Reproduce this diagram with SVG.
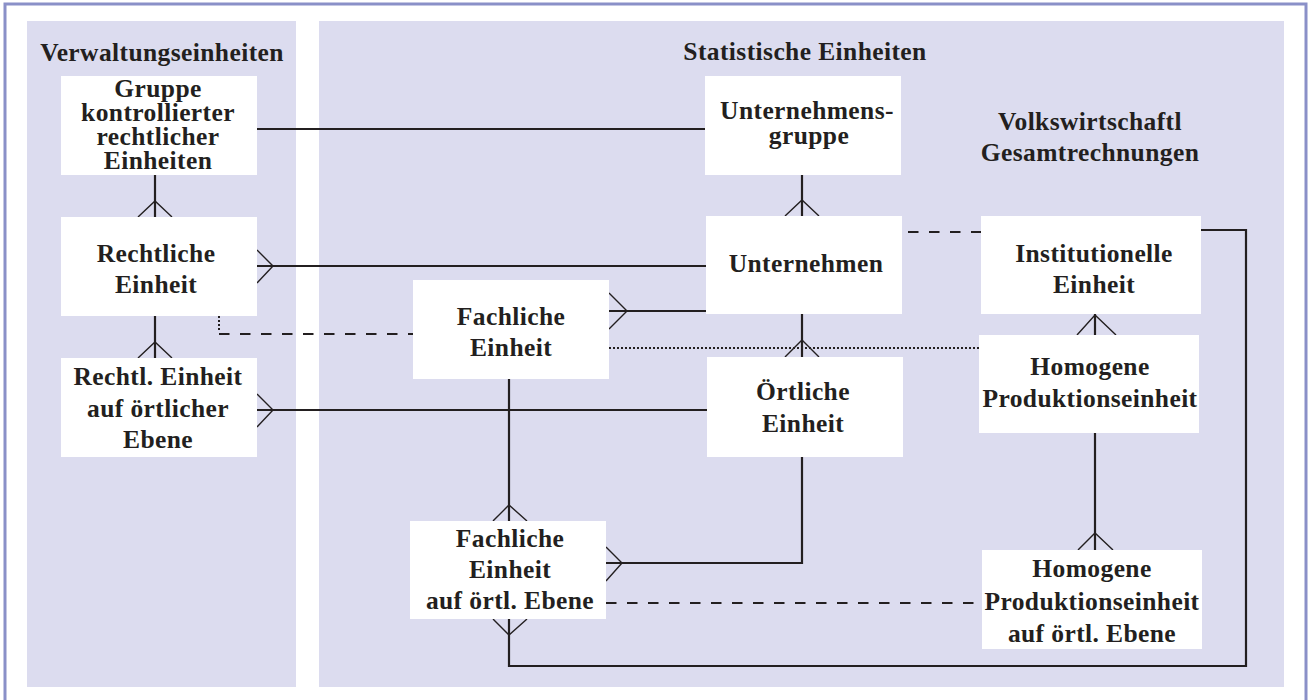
<svg xmlns="http://www.w3.org/2000/svg" width="1309" height="700" viewBox="0 0 1309 700">
<style>
.frame{fill:#ffffff;stroke:#8a90c8;stroke-width:3}
.panel{fill:#dcdcef}
.box{fill:#ffffff}
.t{font-family:"Liberation Serif","Times New Roman",serif;font-weight:bold;font-size:25.5px;letter-spacing:0.4px;fill:#231f20;text-anchor:middle}
.ln{fill:none;stroke:#231f20;stroke-width:2.2}
.cf{fill:none;stroke:#231f20;stroke-width:1.4}
.dash{fill:none;stroke:#231f20;stroke-width:2.2;stroke-dasharray:10.5 10.5}
.dot{fill:none;stroke:#231f20;stroke-width:2;stroke-dasharray:2 2}
</style>
<rect class="frame" x="5" y="4" width="1301" height="710"/>
<rect class="panel" x="27" y="21" width="269" height="666"/>
<rect class="panel" x="319" y="21" width="965" height="666"/>
<g id="headers">
<text class="t" x="162" y="61">Verwaltungseinheiten</text>
<text class="t" x="805" y="60">Statistische Einheiten</text>
<text class="t" x="1090" y="130">Volkswirtschaftl</text>
<text class="t" x="1090" y="161">Gesamtrechnungen</text>
</g>
<g id="connectors">
<path class="ln" d="M257,129 H705"/>
<path class="ln" d="M155,175 V217"/><path class="cf" d="M138,217 L155,201 L172,217"/>
<path class="ln" d="M257,266 H706"/><path class="cf" d="M257,250 L273,266 L257,283"/>
<path class="ln" d="M155,316 V358"/><path class="cf" d="M138,358 L155,342 L172,358"/>
<path class="ln" d="M257,410 H707"/><path class="cf" d="M257,394 L273,410 L257,427"/>
<path class="dot" d="M219,316 V330"/><path class="dash" d="M219,334 H413"/>
<path class="ln" d="M609,311 H706"/><path class="cf" d="M609,293 L627,311 L609,329"/>
<path class="ln" d="M802,175 V216"/><path class="cf" d="M785,216 L802,200 L819,216"/>
<path class="ln" d="M802,314 V357"/><path class="cf" d="M785,357 L802,340 L819,357"/>
<path class="dot" d="M609,348 H979"/>
<path class="dash" d="M908,232 H981"/>
<path class="ln" d="M1095,314 V335"/><path class="cf" d="M1077,335 L1095,315 L1116,335"/>
<path class="ln" d="M509,379 V521"/><path class="cf" d="M493,521 L509,505 L527,521"/>
<path class="ln" d="M802,457 V563 H606"/><path class="cf" d="M606,547 L622,563 L606,581"/>
<path class="dash" d="M606,603 H982"/>
<path class="ln" d="M1095,433 V550"/><path class="cf" d="M1078,550 L1095,533 L1113,550"/>
<path class="ln" d="M1201,230 H1246 V666 H509 V619"/><path class="cf" d="M493,619 L509,635 L527,619"/>
</g>
<g id="n-gruppe"><rect class="box" x="61" y="76" width="196" height="99"/>
<text class="t" x="158" y="97">Gruppe</text><text class="t" x="158" y="121">kontrollierter</text><text class="t" x="158" y="145">rechtlicher</text><text class="t" x="158" y="169">Einheiten</text></g>
<g id="n-rechtliche"><rect class="box" x="61" y="217" width="196" height="99"/>
<text class="t" x="156" y="262">Rechtliche</text><text class="t" x="156" y="293">Einheit</text></g>
<g id="n-rechtl-oertlich"><rect class="box" x="61" y="358" width="196" height="99"/>
<text class="t" x="158" y="385">Rechtl. Einheit</text><text class="t" x="158" y="417">auf örtlicher</text><text class="t" x="158" y="448">Ebene</text></g>
<g id="n-ugruppe"><rect class="box" x="705" y="76" width="196" height="99"/>
<text class="t" x="807" y="119">Unternehmens-</text><text class="t" x="809" y="144">gruppe</text></g>
<g id="n-unternehmen"><rect class="box" x="706" y="216" width="196" height="98"/>
<text class="t" x="806" y="272">Unternehmen</text></g>
<g id="n-fachliche"><rect class="box" x="413" y="280" width="196" height="99"/>
<text class="t" x="511" y="325">Fachliche</text><text class="t" x="511" y="356">Einheit</text></g>
<g id="n-oertliche"><rect class="box" x="707" y="357" width="196" height="100"/>
<text class="t" x="803" y="400">Örtliche</text><text class="t" x="803" y="432">Einheit</text></g>
<g id="n-institutionelle"><rect class="box" x="981" y="216" width="220" height="98"/>
<text class="t" x="1094" y="262">Institutionelle</text><text class="t" x="1094" y="293">Einheit</text></g>
<g id="n-homogene"><rect class="box" x="979" y="335" width="220" height="98"/>
<text class="t" x="1090" y="375">Homogene</text><text class="t" x="1090" y="407">Produktionseinheit</text></g>
<g id="n-fachliche-oertlich"><rect class="box" x="410" y="521" width="196" height="98"/>
<text class="t" x="510" y="547">Fachliche</text><text class="t" x="510" y="578">Einheit</text><text class="t" x="510" y="609">auf örtl. Ebene</text></g>
<g id="n-homogene-oertlich"><rect class="box" x="982" y="550" width="220" height="99"/>
<text class="t" x="1092" y="577">Homogene</text><text class="t" x="1092" y="610">Produktionseinheit</text><text class="t" x="1092" y="642">auf örtl. Ebene</text></g>
</svg>
